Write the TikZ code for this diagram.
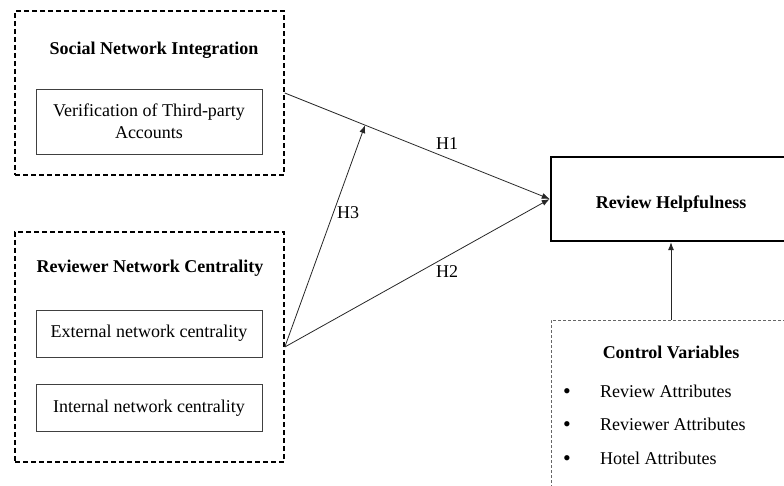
\documentclass[tikz,border=0pt]{standalone}
\usepackage{fontspec}
\setmainfont{Liberation Serif}
\usetikzlibrary{arrows.meta,calc}
\tikzset{
	group/.style={draw, line width=1.6pt, dash pattern=on 5pt off 3pt, minimum width=269pt, inner sep=0pt},
	item/.style={draw=black!75, line width=0.8pt, minimum width=226pt, align=center, inner sep=0pt},
	title/.style={font=\fontsize{18}{22}\selectfont\bfseries},
	lbl/.style={font=\fontsize{18}{22}\selectfont},
	path/.style={draw=black!85, line width=0.8pt, -{Latex[length=8pt,width=6pt]}}
}
\begin{document}
\begin{tikzpicture}[x=1pt, y=-1pt, font=\fontsize{18}{22}\selectfont]
		\useasboundingbox (0,0) rectangle (784,486);
		\node[group, minimum height=164pt] (sni) at (149.5,93) {};
		\node[title] (snititle) at (154,50) {Social Network Integration};
		\node[item, minimum height=65pt] (vta) at (149,121.5) {Verification of Third-party\\Accounts};
		\node[group, minimum height=230pt] (rnc) at (149.5,347) {};
		\node[title] (rnctitle) at (150,268) {Reviewer Network Centrality};
		\node[item, minimum height=47pt] (ext) at (149,333.5) {External network centrality};
		\node[item, minimum height=47pt] (int) at (149,408) {Internal network centrality};
		\node[draw, line width=2.5pt, minimum width=240pt, minimum height=84pt, inner sep=0pt] (rh) at (671,199) {};
		\node[title] (rhtitle) at (671,204) {Review Helpfulness};
		\node[draw=black!60, line width=0.8pt, dash pattern=on 3pt off 2pt, minimum width=240pt, minimum height=180pt, inner sep=0pt] (cv) at (671,410) {};
		\node[title] (cvtitle) at (671,352) {Control Variables};
		\node[font=\fontsize{22}{22}\selectfont] (b1) at (567,394) {\textbullet};
		\node[anchor=west, inner sep=0pt] (c1) at (600,391) {Review Attributes};
		\node[font=\fontsize{22}{22}\selectfont] (b2) at (567,427) {\textbullet};
		\node[anchor=west, inner sep=0pt] (c2) at (600,424) {Reviewer Attributes};
		\node[font=\fontsize{22}{22}\selectfont] (b3) at (567,461) {\textbullet};
		\node[anchor=west, inner sep=0pt] (c3) at (600,458) {Hotel Attributes};
		\coordinate (mod) at ($(sni.east)!0.303!(rh.west)$);
		\draw[path] (sni.east) -- (rh.west);
		\draw[path] (rnc.east) -- (rh.west);
		\draw[path] (rnc.east) -- (mod);
		\draw[path] (cv.north) -- (rh.south);
		\node[lbl] (h1) at (447,144) {H1};
		\node[lbl] (h2) at (447,272) {H2};
		\node[lbl] (h3) at (348,213) {H3};
	\end{tikzpicture}
\end{document}
